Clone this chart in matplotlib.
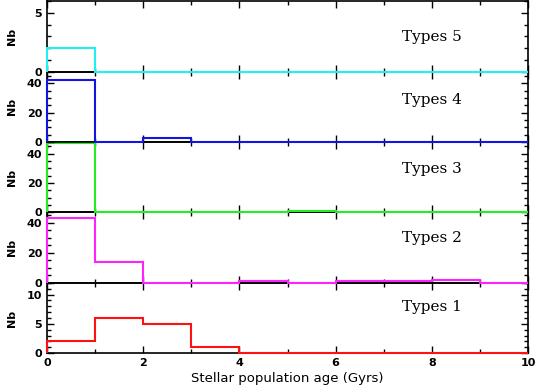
import numpy as np
import matplotlib
matplotlib.use('Agg')
import matplotlib.pyplot as plt
from matplotlib.ticker import MultipleLocator

# bins d'age (Gyrs)
edges = np.arange(0, 11, 1)

types5 = [2, 0, 0, 0, 0, 0, 0, 0, 0, 0]
types4 = [42, 0, 3, 0, 0, 0, 0, 0, 0, 0]
types3 = [47, 0, 0, 0, 0, 1, 0, 0, 0, 0]
types2 = [43, 14, 0, 0, 1, 0, 1, 1, 2, 0]
types1 = [2, 6, 5, 1, 0, 0, 0, 0, 0, 0]

labels = ['Types 5', 'Types 4', 'Types 3', 'Types 2', 'Types 1']
series = [types5, types4, types3, types2, types1]
colors = ['#22f0f0', '#1515e0', '#22ee22', '#ff22ff', '#ff1111']
ymax = [6, 48, 48, 47, 12]
major = [5, 20, 20, 20, 5]
minor = [1, 5, 5, 5, 1]
text_y = [0.49, 0.59, 0.62, 0.63, 0.66]

fig, axes = plt.subplots(5, 1, figsize=(5.35, 3.89), dpi=100, sharex=True)
fig.subplots_adjust(left=0.088, right=0.987, top=0.997, bottom=0.092, hspace=0)

for i, ax in enumerate(axes):
    # panneau du haut dessine en dernier pour que la ligne a 0 reste visible
    ax.set_zorder(5 - i)
    ax.patch.set_visible(False)
    ax.stairs(series[i], edges, baseline=0, color=colors[i], lw=1.5,
              zorder=3, clip_on=False)
    ax.set_xlim(0, 10)
    ax.set_ylim(0, ymax[i])
    ax.yaxis.set_major_locator(MultipleLocator(major[i]))
    ax.yaxis.set_minor_locator(MultipleLocator(minor[i]))
    ax.xaxis.set_major_locator(MultipleLocator(2))
    ax.xaxis.set_minor_locator(MultipleLocator(1))
    ax.tick_params(which='both', direction='in', top=True, right=True,
                   labelsize=8, width=1)
    ax.tick_params(which='major', length=5)
    ax.tick_params(which='minor', length=3)
    for s in ax.spines.values():
        s.set_linewidth(1.2)
    ax.set_ylabel('Nb', fontsize=8, fontweight='bold')
    ax.yaxis.set_label_coords(-0.062, 0.5)
    ax.text(0.80, text_y[i], labels[i], transform=ax.transAxes,
            ha='center', va='center', fontsize=11, family='DejaVu Serif')
    for lab in ax.get_yticklabels():
        lab.set_fontweight('bold')

axes[-1].set_xlabel('Stellar population age (Gyrs)', fontsize=9.5, labelpad=3)
for lab in axes[-1].get_xticklabels():
    lab.set_fontweight('bold')

fig.savefig('out.png', dpi=100)
